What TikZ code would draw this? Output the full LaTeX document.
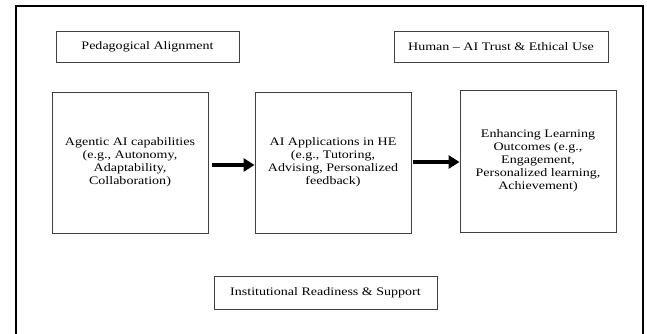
\documentclass[tikz,border=0pt]{standalone}
\usepackage{fontspec}
\setmainfont{Liberation Serif}[FakeStretch=1.22]
\usetikzlibrary{arrows.meta}
\begin{document}
\begin{tikzpicture}[x=1pt,y=-1pt,
  box/.style={draw=black!75,line width=0.9pt,fill=white,inner sep=0pt,align=center,font=\fontsize{11.5}{13}\selectfont},
  tagbox/.style={box},
  flow/.style={line width=3.6pt,-{Triangle[length=11pt,width=13pt]},shorten >=0pt}]
\useasboundingbox (0,0) rectangle (647,334);
% outer frame, open at the bottom
\draw[line width=2pt] (15.5,345) -- (15.5,6.5) -- (642.5,6.5) -- (642.5,345);
% context boxes
\node[tagbox,minimum width=183pt,minimum height=31pt] (ped) at (147.5,46.5) {Pedagogical Alignment};
\node[tagbox,minimum width=214pt,minimum height=31pt] (trust) at (501,46.5) {Human -- AI Trust \& Ethical Use};
\node[tagbox,minimum width=223pt,minimum height=33pt] (inst) at (325.5,292.5) {Institutional Readiness \& Support};
% main flow
\node[box,minimum width=156pt,minimum height=141pt] (cap) at (130,162.5) {Agentic AI capabilities\\(e.g., Autonomy,\\Adaptability,\\Collaboration)};
\node[box,minimum width=156pt,minimum height=141pt] (app) at (333,162.5) {AI Applications in HE\\(e.g., Tutoring,\\Advising, Personalized\\feedback)};
\node[box,minimum width=156pt,minimum height=142pt] (out) at (538,161) {Enhancing Learning\\Outcomes (e.g.,\\Engagement,\\Personalized learning,\\Achievement)};
\coordinate (a1) at (212,165);
\coordinate (a2) at (413,162);
\draw[flow] (a1) -- (a1 -| app.west);
\draw[flow] (a2) -- (a2 -| out.west);
\end{tikzpicture}
\end{document}
